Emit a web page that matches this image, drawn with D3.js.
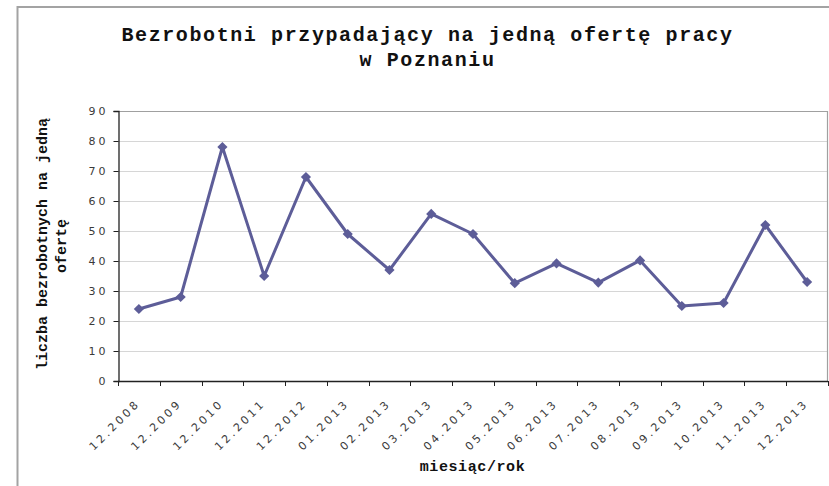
<!DOCTYPE html>
<html>
<head>
<meta charset="utf-8">
<script src="https://cdn.jsdelivr.net/npm/d3@7"></script>
<style>
  html, body { margin: 0; padding: 0; background: #fff; }
  svg { display: block; }
</style>
</head>
<body>
<svg id="chart" width="829" height="486"></svg>
<script>
const categories = ["12.2008","12.2009","12.2010","12.2011","12.2012","01.2013","02.2013","03.2013","04.2013","05.2013","06.2013","07.2013","08.2013","09.2013","10.2013","11.2013","12.2013"];
const values = [24, 28, 78, 35, 68, 49, 37, 55.7, 49, 32.6, 39.2, 32.8, 40.2, 25, 26, 52, 33];
const yTicks = [0, 10, 20, 30, 40, 50, 60, 70, 80, 90];
const titleLines = ["Bezrobotni przypadający na jedną ofertę pracy", "w Poznaniu"];
const yTitleLines = ["liczba bezrobotnych na jedną", "ofertę"];
const xTitle = "miesiąc/rok";

const svg = d3.select("#chart");
const pL = 118, pR = 828, pT = 111, pB = 381;

const x = d3.scaleBand().domain(categories).range([pL, pR]).padding(0);
const y = d3.scaleLinear().domain([0, 90]).range([pB, pT]);

// outer frame
svg.append("rect").attr("x", 17.5).attr("y", 7).attr("width", 900).attr("height", 600)
  .attr("fill", "#fff").attr("stroke", "#a3a3a3").attr("stroke-width", 2);

// gridlines
svg.append("g").selectAll("line").data(yTicks.filter(d => d > 0 && d < 90)).join("line")
  .attr("x1", pL).attr("x2", pR)
  .attr("y1", d => Math.round(y(d)) + 0.5).attr("y2", d => Math.round(y(d)) + 0.5)
  .attr("stroke", "#d6d6d6").attr("stroke-width", 1.2);

// plot border top/right
svg.append("path")
  .attr("d", `M${pL},${pT + 0.5}H${pR - 0.5}V${pB}`)
  .attr("fill", "none").attr("stroke", "#a0a0a0").attr("stroke-width", 1.2);

// y axis
const yAxis = d3.axisLeft(y).tickValues(yTicks).tickSize(5).tickPadding(9);
const gy = svg.append("g").attr("transform", `translate(${pL + 0.5},0)`).call(yAxis);
gy.select(".domain").attr("stroke", "#222").attr("stroke-width", 1.3);
gy.selectAll(".tick line").attr("stroke", "#222");
gy.selectAll(".tick text")
  .attr("font-family", "DejaVu Sans, sans-serif").attr("font-size", "11px")
  .attr("letter-spacing", "3px").attr("fill", "#3a3a3a").attr("x", -10);

// x axis
const boundaries = d3.range(categories.length + 1).map(i => pL + i * x.bandwidth());
const gx = svg.append("g");
gx.append("line").attr("x1", pL).attr("x2", pR).attr("y1", pB + 0.5).attr("y2", pB + 0.5)
  .attr("stroke", "#222").attr("stroke-width", 1.3);
gx.selectAll("line.t").data(boundaries).join("line").attr("class", "t")
  .attr("x1", d => Math.round(d) + 0.5).attr("x2", d => Math.round(d) + 0.5)
  .attr("y1", pB).attr("y2", pB + 5).attr("stroke", "#222");
gx.selectAll("text").data(categories).join("text")
  .attr("transform", d => `translate(${x(d) + x.bandwidth() / 2 + 2},404) rotate(-45)`)
  .attr("text-anchor", "end")
  .attr("font-family", "DejaVu Sans, sans-serif").attr("font-size", "11px")
  .attr("letter-spacing", "3px").attr("fill", "#3a3a3a")
  .text(d => d);

// line
const line = d3.line().x((d, i) => x(categories[i]) + x.bandwidth() / 2).y(d => y(d));
svg.append("path").datum(values).attr("d", line)
  .attr("fill", "none").attr("stroke", "#5d5d98").attr("stroke-width", 3).attr("stroke-linejoin", "round");

// markers
svg.append("g").selectAll("path").data(values).join("path")
  .attr("d", d3.symbol(d3.symbolSquare, 52))
  .attr("transform", (d, i) => `translate(${x(categories[i]) + x.bandwidth() / 2},${y(d)}) rotate(45)`)
  .attr("fill", "#5d5d98");

// title
svg.append("g").selectAll("text").data(titleLines).join("text")
  .attr("x", 427.5).attr("y", (d, i) => 40.7 + i * 25)
  .attr("text-anchor", "middle")
  .attr("font-family", "Liberation Mono, Courier New, monospace").attr("font-weight", "bold")
  .attr("font-size", "20px").attr("letter-spacing", "1.6px").attr("fill", "#111")
  .text(d => d);

// y title
svg.append("g").selectAll("text").data(yTitleLines).join("text")
  .attr("transform", (d, i) => `translate(${41.7 + i * 19.5},${244 + i * 2}) rotate(-90)`)
  .attr("dy", "0.35em").attr("text-anchor", "middle")
  .attr("font-family", "Liberation Mono, Courier New, monospace").attr("font-weight", "bold")
  .attr("font-size", "15px").attr("fill", "#111")
  .text(d => d);

// x title
svg.append("text").attr("x", 472.5).attr("y", 471)
  .attr("text-anchor", "middle")
  .attr("font-family", "Liberation Mono, Courier New, monospace").attr("font-weight", "bold")
  .attr("font-size", "15px").attr("letter-spacing", "0.6px").attr("fill", "#111")
  .text(xTitle);
</script>
</body>
</html>
